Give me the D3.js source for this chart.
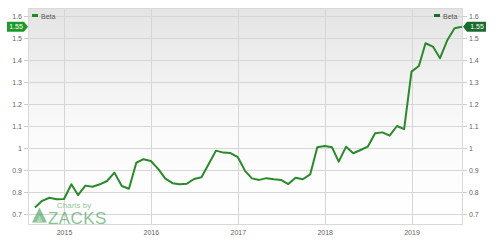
<!DOCTYPE html>
<html>
<head>
<meta charset="utf-8">
<script src="https://cdn.jsdelivr.net/npm/d3@7"></script>
<style>
  html, body { margin: 0; padding: 0; background: #fff; }
  svg { display: block; font-family: "Liberation Sans", Arial, sans-serif; }
</style>
</head>
<body>
<svg id="chart" width="500" height="242"></svg>
<script>
// ---- data ----
const startMonth = "2014-09";
const betaValues = [
  0.730, 0.760, 0.774, 0.767, 0.768, 0.835, 0.786, 0.829, 0.824, 0.835,
  0.850, 0.888, 0.827, 0.815, 0.933, 0.949, 0.941, 0.905, 0.862, 0.840,
  0.835, 0.838, 0.859, 0.867, 0.928, 0.988, 0.979, 0.977, 0.958, 0.895,
  0.862, 0.855, 0.863, 0.858, 0.855, 0.836, 0.865, 0.858, 0.880, 1.003,
  1.009, 1.003, 0.938, 1.006, 0.976, 0.991, 1.006, 1.067, 1.071, 1.056,
  1.100, 1.086, 1.347, 1.373, 1.476, 1.461, 1.408, 1.491, 1.544, 1.551
];
const yTicks = [0.7, 0.8, 0.9, 1, 1.1, 1.2, 1.3, 1.4, 1.5, 1.6];
const yTickLabels = ["0.7", "0.8", "0.9", "1", "1.1", "1.2", "1.3", "1.4", "1.5", "1.6"];
const xTickYears = [2015, 2016, 2017, 2018, 2019];
const seriesName = "Beta";
const lastLabel = "1.55";

// ---- layout ----
const svg = d3.select("#chart");
const L = 28, R = 463, T = 8, B = 225;
const parse = d3.timeParse("%Y-%m");
const d0 = parse(startMonth);
const data = betaValues.map((v, i) => ({ date: d3.timeMonth.offset(d0, i), value: v }));

const xRef = d3.scaleTime()
  .domain([new Date(2015, 0, 1), new Date(2019, 0, 1)])
  .range([64, 411.5]);
const x = d3.scaleTime().domain([xRef.invert(L), xRef.invert(R)]).range([L, R]);
const y = d3.scaleLinear().domain([0.65, 1.6 + 8 / 220]).range([B, T]);

// background gradient
const defs = svg.append("defs");
const grad = defs.append("linearGradient").attr("id", "bg").attr("x1", 0).attr("y1", 0).attr("x2", 0).attr("y2", 1);
grad.append("stop").attr("offset", "0%").attr("stop-color", "#e4e4e4");
grad.append("stop").attr("offset", "55%").attr("stop-color", "#fafafa");
grad.append("stop").attr("offset", "100%").attr("stop-color", "#ffffff");
defs.append("clipPath").attr("id", "clip").append("rect")
  .attr("x", L).attr("y", T).attr("width", R - L).attr("height", B - T);

svg.append("rect").attr("x", L).attr("y", T).attr("width", R - L).attr("height", B - T)
  .attr("fill", "url(#bg)");

// horizontal grid
svg.append("g").selectAll("line").data(yTicks).join("line")
  .attr("x1", L).attr("x2", R)
  .attr("y1", d => y(d) + 0.5).attr("y2", d => y(d) + 0.5)
  .attr("stroke", "#d6d6d6").attr("stroke-width", 1);

// vertical grid
const xTickDates = xTickYears.map(yr => new Date(yr, 0, 1));
svg.append("g").selectAll("line").data(xTickDates).join("line")
  .attr("x1", d => Math.round(x(d)) + 0.5).attr("x2", d => Math.round(x(d)) + 0.5)
  .attr("y1", T).attr("y2", B)
  .attr("stroke", "#d6d6d6").attr("stroke-width", 1);

// plot border
svg.append("rect").attr("x", L + 0.5).attr("y", T + 0.5).attr("width", R - L - 1).attr("height", B - T - 1)
  .attr("fill", "none").attr("stroke", "#d9d9d9");

// axes
const leftAxis = svg.append("g").attr("transform", `translate(${L},0)`)
  .call(d3.axisLeft(y).tickValues(yTicks).tickFormat((d, i) => yTickLabels[i]).tickSize(4).tickPadding(2));
const rightAxis = svg.append("g").attr("transform", `translate(${R},0)`)
  .call(d3.axisRight(y).tickValues(yTicks).tickFormat((d, i) => yTickLabels[i]).tickSize(4).tickPadding(2));
const bottomAxis = svg.append("g").attr("transform", `translate(0,${B})`)
  .call(d3.axisBottom(x).tickValues(xTickDates).tickFormat(d3.timeFormat("%Y")).tickSize(0).tickPadding(5));
[leftAxis, rightAxis, bottomAxis].forEach(g => {
  g.select(".domain").remove();
  g.selectAll(".tick line").attr("stroke", "#cccccc");
  g.selectAll("text").attr("fill", "#666").style("font-size", "7px");
});

// watermark
const wm = svg.append("g").attr("opacity", 0.6);
wm.append("path").attr("d", "M32,222.5 L39.5,207.5 L47,222.5 Z").attr("fill", "#3c9b4e");
wm.append("path").attr("d", "M36,222.5 L39.5,215.5 L43,222.5 Z").attr("fill", "#7cc08a");
wm.append("text").attr("x", 57).attr("y", 208).text("Charts by")
  .attr("fill", "#4f9e5e").style("font-size", "8px");
wm.append("text").attr("x", 48).attr("y", 223.5).text("ZACKS")
  .attr("fill", "#3c9b4e").style("font-size", "17px").style("letter-spacing", "0.4px");

// line
svg.append("path").datum(data)
  .attr("clip-path", "url(#clip)")
  .attr("fill", "none").attr("stroke", "#2a8a2a").attr("stroke-width", 2)
  .attr("stroke-linejoin", "round")
  .attr("d", d3.line().x(d => x(d.date)).y(d => y(d.value)));

// legends
svg.append("rect").attr("x", 32).attr("y", 14).attr("width", 6).attr("height", 3).attr("fill", "#1e8a2a");
svg.append("text").attr("x", 41).attr("y", 18.5).text(seriesName).attr("fill", "#555").style("font-size", "7px");
svg.append("rect").attr("x", 434).attr("y", 14).attr("width", 6).attr("height", 3).attr("fill", "#1a6b2e");
svg.append("text").attr("x", 443).attr("y", 18.5).text(seriesName).attr("fill", "#555").style("font-size", "7px");

// value tags
const last = data[data.length - 1];
const ty = y(last.value);
svg.append("path")
  .attr("d", `M7,${ty - 5} L24,${ty - 5} L28,${ty} L24,${ty + 5} L7,${ty + 5} Z`)
  .attr("fill", "#1f9a2a");
svg.append("text").attr("x", 16).attr("y", ty + 2.5).attr("text-anchor", "middle")
  .text(lastLabel).attr("fill", "#fff").style("font-size", "7px");
svg.append("path")
  .attr("d", `M${R},${ty} L${R + 4},${ty - 5} L${R + 23},${ty - 5} L${R + 23},${ty + 5} L${R + 4},${ty + 5} Z`)
  .attr("fill", "#1a6b2e");
svg.append("text").attr("x", R + 14).attr("y", ty + 2.5).attr("text-anchor", "middle")
  .text(lastLabel).attr("fill", "#fff").style("font-size", "7px");
</script>
</body>
</html>
